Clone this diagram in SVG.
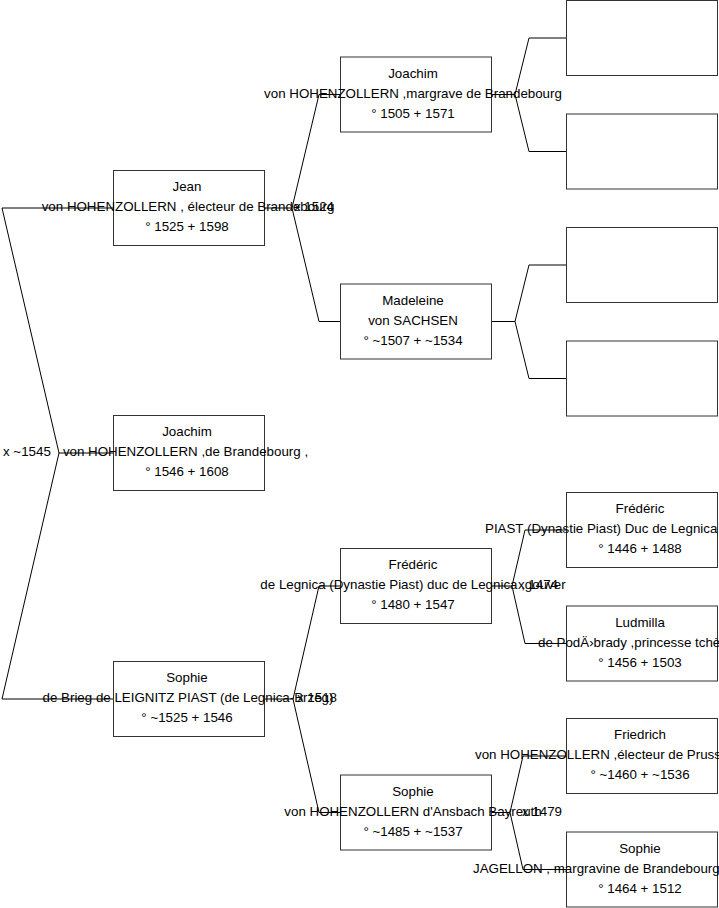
<svg xmlns="http://www.w3.org/2000/svg" width="719" height="908" viewBox="0 0 719 908">
<style>
.box{fill:#fff;stroke:#333;stroke-width:1}
.ln{fill:none;stroke:#000;stroke-width:1}
text{font-family:"Liberation Sans",Arial,sans-serif;font-size:13.33px;fill:#000}
.c{text-anchor:middle}
</style>
<rect width="719" height="908" fill="#fff"/>
<g id="connectors">
<path class="ln" d="M114,208 H2 L59,453 L2,699 H114 M59,453 H114"/>
<path class="ln" d="M341,94.5 H319 L292,208 L319,321.5 H341 M265,208 H292"/>
<path class="ln" d="M567,38 H529 L515,94.5 L529,151.5 H567 M492,94.5 H515"/>
<path class="ln" d="M567,265 H529 L515,321.5 L529,378.5 H567 M492,321.5 H515"/>
<path class="ln" d="M341,586 H319 L293,699 L319,812.5 H341 M265,699 H293"/>
<path class="ln" d="M567,530 H525 L512,586 L525,643.5 H567 M492,586 H512"/>
<path class="ln" d="M567,756 H523 L510,812.5 L523,869.5 H567 M492,812.5 H510"/>
<text x="3" y="456">x ~1545</text>
<text x="294" y="211">x 1524</text>
<text x="297" y="702">x 1518</text>
<text x="518" y="589">x 1474</text>
<text x="522" y="815.5">x 1479</text>
</g>
<g id="n-jean">
<rect class="box" x="113.5" y="170.5" width="151" height="75"/>
<text class="c" x="187" y="191">Jean</text>
<text class="c" x="188" y="211">von HOHENZOLLERN , électeur de Brandebourg</text>
<text class="c" x="187" y="231">° 1525 + 1598</text>
</g>
<g id="n-joachim-1546">
<rect class="box" x="113.5" y="415.5" width="151" height="75"/>
<text class="c" x="187" y="436">Joachim</text>
<text class="c" x="185.5" y="456">von HOHENZOLLERN ,de Brandebourg ,</text>
<text class="c" x="187" y="476">° 1546 + 1608</text>
</g>
<g id="n-sophie-1525">
<rect class="box" x="113.5" y="661.5" width="151" height="75"/>
<text class="c" x="187" y="682">Sophie</text>
<text class="c" x="188" y="702">de Brieg de LEIGNITZ PIAST (de Legnica-Brzeg)</text>
<text class="c" x="187" y="722">° ~1525 + 1546</text>
</g>
<g id="n-joachim-1505">
<rect class="box" x="340.5" y="57" width="151" height="75"/>
<text class="c" x="413" y="77.5">Joachim</text>
<text class="c" x="413" y="97.5">von HOHENZOLLERN ,margrave de Brandebourg</text>
<text class="c" x="413" y="117.5">° 1505 + 1571</text>
</g>
<g id="n-madeleine">
<rect class="box" x="340.5" y="284" width="151" height="75"/>
<text class="c" x="413" y="304.5">Madeleine</text>
<text class="c" x="413" y="324.5">von SACHSEN</text>
<text class="c" x="413" y="344.5">° ~1507 + ~1534</text>
</g>
<g id="n-frederic-1480">
<rect class="box" x="340.5" y="548.5" width="151" height="75"/>
<text class="c" x="413" y="569">Frédéric</text>
<text class="c" x="413" y="589">de Legnica (Dynastie Piast) duc de Legnica ,gouver</text>
<text class="c" x="413" y="609">° 1480 + 1547</text>
</g>
<g id="n-sophie-1485">
<rect class="box" x="340.5" y="775" width="151" height="75"/>
<text class="c" x="413" y="795.5">Sophie</text>
<text class="c" x="413" y="815.5">von HOHENZOLLERN d'Ansbach Bayreuth</text>
<text class="c" x="413" y="835.5">° ~1485 + ~1537</text>
</g>
<g id="n-empty-1"><rect class="box" x="566.5" y="0.5" width="151" height="75"/></g>
<g id="n-empty-2"><rect class="box" x="566.5" y="114" width="151" height="75"/></g>
<g id="n-empty-3"><rect class="box" x="566.5" y="227.5" width="151" height="75"/></g>
<g id="n-empty-4"><rect class="box" x="566.5" y="341" width="151" height="75"/></g>
<g id="n-frederic-1446">
<rect class="box" x="566.5" y="492.5" width="151" height="75"/>
<text class="c" x="640" y="513">Frédéric</text>
<text x="485" y="533">PIAST (Dynastie Piast) Duc de Legnica</text>
<text class="c" x="640" y="553">° 1446 + 1488</text>
</g>
<g id="n-ludmilla">
<rect class="box" x="566.5" y="606" width="151" height="75"/>
<text class="c" x="640" y="626.5">Ludmilla</text>
<text x="538" y="646.5">de PodÄ›brady ,princesse tchè</text>
<text class="c" x="640" y="666.5">° 1456 + 1503</text>
</g>
<g id="n-friedrich">
<rect class="box" x="566.5" y="718.5" width="151" height="75"/>
<text class="c" x="640" y="739">Friedrich</text>
<text x="475" y="759">von HOHENZOLLERN ,électeur de Pruss</text>
<text class="c" x="640" y="779">° ~1460 + ~1536</text>
</g>
<g id="n-sophie-1464">
<rect class="box" x="566.5" y="832" width="151" height="75"/>
<text class="c" x="640" y="852.5">Sophie</text>
<text x="473" y="872.5">JAGELLON , margravine de Brandebourg</text>
<text class="c" x="640" y="892.5">° 1464 + 1512</text>
</g>
</svg>
